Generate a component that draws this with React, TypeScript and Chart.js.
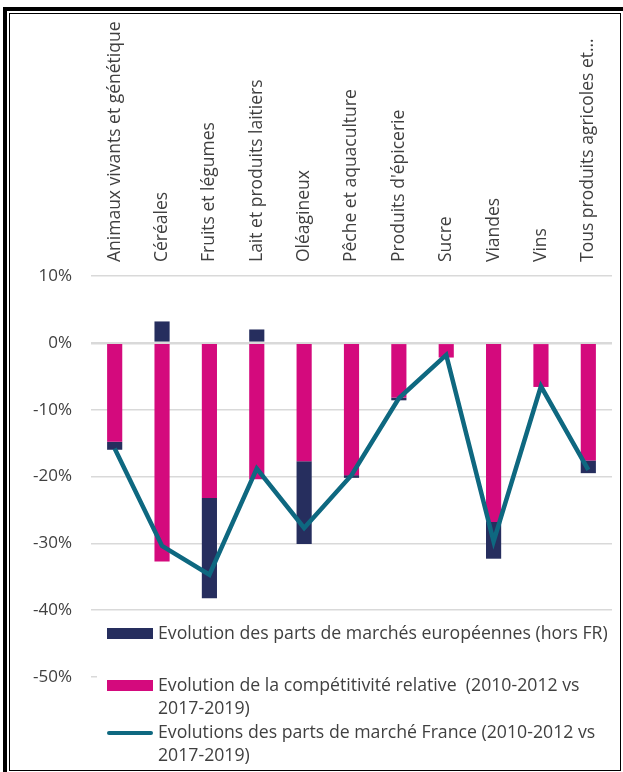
import React, { useEffect, useRef } from "react";
import { Chart, registerables } from "chart.js";

Chart.register(...registerables);

const categories = [
  "Animaux vivants et génétique",
  "Céréales",
  "Fruits et légumes",
  "Lait et produits laitiers",
  "Oléagineux",
  "Pêche et aquaculture",
  "Produits d'épicerie",
  "Sucre",
  "Viandes",
  "Vins",
  "Tous produits agricoles et…",
];

const europeValues = [-1.2, 3.2, -15.0, 2.0, -12.4, -0.4, -0.4, 0, -5.5, 0, -1.9];
const competitiviteValues = [-14.8, -32.7, -23.2, -20.4, -17.7, -19.8, -8.2, -2.2, -26.8, -6.6, -17.6];
const franceValues = [-15.8, -30.4, -34.7, -18.8, -27.7, -19.8, -8.3, -1.8, -29.7, -6.5, -19.0];

const legendLabels = [
  "Evolution des parts de marchés européennes (hors FR)",
  "Evolution de la compétitivité relative  (2010-2012 vs 2017-2019)",
  "Evolutions des parts de marché France (2010-2012 vs 2017-2019)",
];

const NAVY = "#262e5e";
const PINK = "#d40a7d";
const TEAL = "#0e6880";
const TEXT = "#404040";
const FONT = "'Open Sans', sans-serif";

export default function App() {
  const ref = useRef<HTMLCanvasElement | null>(null);

  useEffect(() => {
    document.body.style.margin = "0";
    const canvas = ref.current;
    if (!canvas) return;
    const chart = new Chart(canvas, {
      type: "bar",
      data: {
        labels: categories,
        datasets: [
          {
            type: "line",
            label: legendLabels[2],
            data: franceValues,
            borderColor: TEAL,
            borderWidth: 4.5,
            pointRadius: 0,
            fill: false,
            tension: 0,
            stack: "line",
            order: 0,
          } as any,
          {
            label: legendLabels[1],
            data: competitiviteValues,
            backgroundColor: PINK,
            order: 1,
            stack: "bars",
          },
          {
            label: legendLabels[0],
            data: europeValues,
            backgroundColor: NAVY,
            order: 2,
            stack: "bars",
          },
        ],
      },
      options: {
        responsive: false,
        animation: false,
        devicePixelRatio: 1,
        layout: { padding: { left: 0, top: 0, right: 11, bottom: 95 } },
        datasets: { bar: { categoryPercentage: 1, barPercentage: 0.32 } },
        plugins: { legend: { display: false }, tooltip: { enabled: false } },
        scales: {
          x: {
            position: "top",
            stacked: true,
            grid: { display: false, drawTicks: false },
            border: { display: false },
            ticks: {
              autoSkip: false,
              minRotation: 90,
              maxRotation: 90,
              padding: 14,
              labelOffset: 21,
              color: TEXT,
              font: { family: FONT, size: 17.5 },
            },
            afterFit: (scale: any) => {
              scale.height = 276;
            },
          },
          y: {
            stacked: true,
            min: -50,
            max: 10,
            grid: {
              color: "#d9d9d9",
              lineWidth: (ctx: any) => (ctx.tick && ctx.tick.value === 0 ? 2.5 : 1.5),
              drawTicks: false,
            },
            border: { display: false },
            ticks: {
              stepSize: 10,
              padding: 19,
              color: TEXT,
              font: { family: FONT, size: 17 },
              callback: (v: any) => `${v}%`,
            },
            afterFit: (scale: any) => {
              scale.width = 91;
            },
          },
        },
      },
    });
    return () => chart.destroy();
  }, []);

  const textStyle: React.CSSProperties = {
    fontFamily: FONT,
    fontSize: 17.7,
    lineHeight: "23px",
    color: TEXT,
    position: "absolute",
    left: 61,
    width: 470,
    whiteSpace: "nowrap",
  };

  return (
    <div
      style={{
        position: "absolute",
        left: 0,
        top: 0,
        width: 623,
        height: 772,
        overflow: "hidden",
        background: "#fff",
      }}
    >
      <div
        style={{
          position: "absolute",
          left: 3,
          top: 7,
          width: 640,
          height: 800,
          border: "4px solid #000",
          boxSizing: "border-box",
        }}
      />
      <div
        style={{
          position: "absolute",
          left: 9,
          top: 13,
          width: 612,
          height: 758,
          border: "1.5px solid #000",
          boxSizing: "border-box",
        }}
      />
      <canvas
        ref={ref}
        width={623}
        height={772}
        style={{ position: "absolute", left: 0, top: 0, width: 623, height: 772 }}
      />
      <div
        style={{
          position: "absolute",
          left: 97,
          top: 617,
          width: 519,
          height: 150,
          background: "#fff",
        }}
      >
        <div style={{ position: "absolute", left: 10, top: 11, width: 46, height: 11, background: NAVY }} />
        <div style={{ ...textStyle, top: 4 }}>{legendLabels[0]}</div>
        <div style={{ position: "absolute", left: 10, top: 63, width: 46, height: 11, background: PINK }} />
        <div style={{ ...textStyle, top: 56 }}>
          Evolution de la compétitivité relative&nbsp; (2010-2012 vs
          <br />
          2017-2019)
        </div>
        <div style={{ position: "absolute", left: 10, top: 114, width: 46, height: 4, background: TEAL, borderRadius: 2 }} />
        <div style={{ ...textStyle, top: 103 }}>
          Evolutions des parts de marché France (2010-2012 vs
          <br />
          2017-2019)
        </div>
      </div>
    </div>
  );
}
